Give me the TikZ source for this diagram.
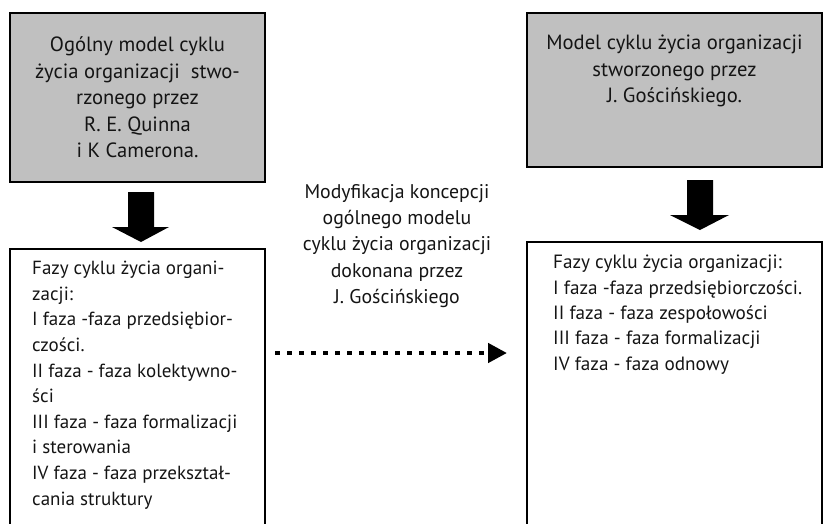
\documentclass[tikz,border=0pt]{standalone}
\usepackage{fontspec}
\setmainfont{PT Sans}
\usetikzlibrary{calc,arrows.meta}
\definecolor{boxgray}{RGB}{192,192,192}
\definecolor{ink}{RGB}{20,20,20}
\tikzset{
  graybox/.style={draw=black, line width=1.5pt, fill=boxgray, inner sep=0pt},
  frameline/.style={draw=black, line width=1.5pt},
  bigtext/.style={align=center, inner sep=0pt, text=ink, font=\fontsize{20.6}{26.5}\selectfont},
  bodytext/.style={align=left, inner sep=0pt, anchor=north west, text=ink, font=\fontsize{19}{25.6}\selectfont},
  blockarrow/.style={fill=black},
  dotarrow/.style={line width=4.5pt, dash pattern=on 4.5pt off 7.5pt, -{Triangle[length=19pt,width=19pt]}}
}
\begin{document}
\begin{tikzpicture}[x=1pt,y=-1pt]
\useasboundingbox (0,0) rectangle (823,523);
% left top gray box
\node[graybox, minimum width=255pt, minimum height=169pt] (lt) at (137.5,97.5) {};
\node[bigtext] (ltt) at (lt.center) {Ogólny model cyklu\\życia organizacji\ \ stwo-\\rzonego przez\\R. E. Quinna\\i K Camerona.};
% right top gray box
\node[graybox, minimum width=295pt, minimum height=154pt] (rt) at (674.5,90) {};
\node[bigtext] (rtt) at (674.5,71) {Model cyklu życia organizacji\\stworzonego przez\\J. Gościńskiego.};
% bottom boxes (cut off at the bottom)
\coordinate (lbA) at (10,530);
\coordinate (lbB) at (10,249);
\coordinate (lbC) at (265,249);
\coordinate (lbD) at (265,530);
\draw[frameline] (lbA) -- (lbB) -- (lbC) -- (lbD);
\coordinate (rbA) at (527,530);
\coordinate (rbB) at (527,242);
\coordinate (rbC) at (822,242);
\coordinate (rbD) at (822,530);
\draw[frameline] (rbA) -- (rbB) -- (rbC) -- (rbD);
% block arrows
\fill[blockarrow] (128,192) -- (154,192) -- (154,227) -- (169,227) -- (141,242) -- (112,227) -- (128,227) -- cycle;
\fill[blockarrow] (687,180) -- (713,180) -- (713,215) -- (729,215) -- (700,230) -- (670,215) -- (687,215) -- cycle;
% texts in bottom boxes
\node[bodytext] (lbt) at (32,261) {Fazy cyklu życia organi-\\zacji:\\I faza -faza przedsiębior-\\czości.\\II faza - faza kolektywno-\\ści\\III faza - faza formalizacji\\i sterowania\\IV faza - faza przekształ-\\cania struktury};
\node[bodytext, font=\fontsize{19.2}{25.3}\selectfont] (rbt) at (553,255) {Fazy cyklu życia organizacji:\\I faza -faza przedsiębiorczości.\\II faza - faza zespołowości\\III faza - faza formalizacji\\IV faza - faza odnowy};
% middle text
\node[bigtext, font=\fontsize{19.8}{26.2}\selectfont] (mid) at (397,246) {Modyfikacja koncepcji\\ogólnego modelu\\cyklu życia organizacji\\dokonana przez\\J. Gościńskiego};
% dotted arrow
\coordinate (ds) at (275,353);
\coordinate (de) at (507,353);
\draw[dotarrow] (ds) -- (de);
\end{tikzpicture}
\end{document}
